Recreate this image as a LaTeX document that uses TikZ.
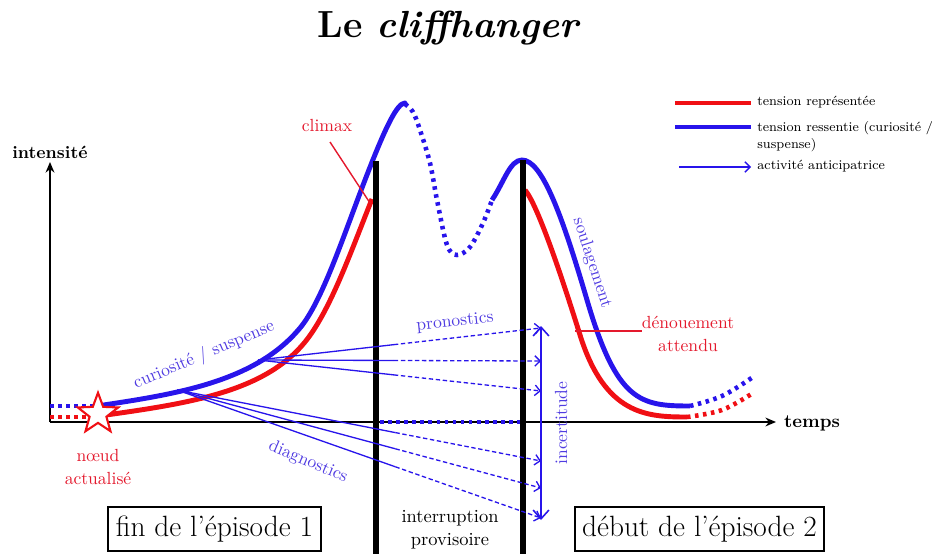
\documentclass[tikz,border=0pt]{standalone}
\usepackage{fontspec}
\usetikzlibrary{arrows.meta,shapes.geometric,calc}
\definecolor{cblue}{RGB}{40,20,235}
\definecolor{cred}{RGB}{240,15,20}
\definecolor{tblue}{RGB}{80,60,225}
\definecolor{tred}{RGB}{228,25,45}
\begin{document}
\begin{tikzpicture}[x=0.02cm,y=-0.02cm,
  txt/.style={font=\fontsize{10}{13}\selectfont, inner sep=0pt, align=center},
  legtxt/.style={font=\fontsize{7.6}{10}\selectfont, inner sep=0pt, anchor=west, align=left},
  axis/.style={black, line width=1.4pt, -{Stealth[length=6pt,width=5pt]}},
  barline/.style={black, line width=3.4pt},
  bcurve/.style={cblue, line width=2.8pt},
  rcurve/.style={cred, line width=2.8pt},
  bdots/.style={cblue, line width=2.6pt, dash pattern=on 2pt off 2.6pt},
  rdots/.style={cred, line width=2.6pt, dash pattern=on 2pt off 2.6pt},
  fan/.style={cblue, line width=0.75pt},
  fandash/.style={cblue, line width=0.75pt, dash pattern=on 2.5pt off 1.5pt, -{Straight Barb[length=3pt,width=6pt]}},
  epbox/.style={draw, line width=1pt, font=\fontsize{16.7}{20}\selectfont, inner sep=0pt, minimum height=0.88cm}
]
\useasboundingbox (0,0) rectangle (932,554);

\node[font=\fontsize{21.5}{25}\selectfont\bfseries] (title) at (449,28) {Le \textit{cliffhanger}};

% axes
\coordinate (O) at (50,422);
\coordinate (Ytop) at (50,162);
\coordinate (Xend) at (776,422);
\draw[axis] (O) -- (Ytop);
\draw[axis] (O) -- (Xend);
\node[txt, font=\fontsize{10}{12}\selectfont\bfseries] (int) at (50,152) {intensité};
\node[txt, font=\fontsize{10.5}{12}\selectfont\bfseries] (temps) at (812,423) {temps};

% dotted segment along axis
\draw[bdots] (380,422) -- (520,422);

% blue curve
\draw[bdots] (50,406) -- (97,406);
\draw[rdots] (50,417) -- (88,417);
\coordinate (B0) at (97,406);
\coordinate (B1) at (300,328);
\coordinate (B2) at (365,180);
\coordinate (B3) at (405,103);
\draw[bcurve, line cap=round] (B0) .. controls (177,394) and (255,382) .. (B1)
  .. controls (322,301.6) and (343,237.2) .. (B2)
  .. controls (385,128) and (397,103) .. (B3);
\draw[bdots] plot[smooth, tension=0.55] coordinates {(405,104) (413,112) (420,130) (430,163) (437,200) (447,245) (457,255) (470,247) (483,223) (492,200)};
\coordinate (Q0) at (492,200);
\coordinate (Q1) at (522,160);
\coordinate (Q2) at (587,300);
\coordinate (Q3) at (690,406);
\draw[bcurve] (Q0) .. controls (504,182) and (510,160) .. (Q1)
  .. controls (542,160) and (562,215) .. (Q2)
  .. controls (617,402) and (640,406) .. (Q3);
\draw[bdots] plot[smooth, tension=0.6] coordinates {(690,406) (722,396) (753,377)};

% red curve
\coordinate (R0) at (106,415);
\coordinate (R1) at (305,342);
\coordinate (R2) at (372,199);
\draw[rcurve] (R0) .. controls (192,403) and (265,391) .. (R1)
  .. controls (330,311) and (350,254) .. (R2);
\coordinate (S0) at (525,190);
\coordinate (S1) at (580,335);
\coordinate (S2) at (687,417);
\draw[rcurve] (S0) .. controls (537,204) and (560,271) .. (S1)
  .. controls (605,415) and (647,417) .. (S2);
\draw[rdots] plot[smooth, tension=0.6] coordinates {(687,417) (722,410) (753,393)};

% bars
\draw[barline] (376,161) -- (376,554);
\draw[barline] (523,160) -- (523,554);

% star
\node[star, star points=5, star point ratio=2.4, draw=cred, fill=white, line width=1.2pt, minimum size=0.85cm, inner sep=0pt] (star) at (98,414) {};
\node[txt, text=tred] (noeud) at (98,467) {nœud\\actualisé};

% fan arrows
\coordinate (o1) at (258,360);
\coordinate (o2) at (177,390);
\coordinate (t1) at (541,328);
\coordinate (t2) at (541,361);
\coordinate (t3) at (541,391);
\coordinate (t4) at (541,461);
\coordinate (t5) at (541,488);
\coordinate (t6) at (541,518);
\foreach \t in {t1,t2,t3}{
  \draw[fan] (o1) -- ($(o1)!0.48!(\t)$) coordinate (m);
  \draw[fandash] (m) -- (\t);
}
\foreach \t in {t4,t5,t6}{
  \draw[fan] (o2) -- ($(o2)!0.6!(\t)$) coordinate (m);
  \draw[fandash] (m) -- (\t);
}
\coordinate (u1) at (541,326);
\coordinate (u2) at (541,520);
\draw[cblue, line width=0.9pt, {Straight Barb[length=5pt,width=9pt]}-{Straight Barb[length=5pt,width=9pt]}] (u1) -- (u2);
\node[txt, text=tblue, rotate=90] (incert) at (561,423) {incertitude};

% labels
\node[txt, text=tblue, rotate=23] (curio) at (204,355) {curiosité / suspense};
\node[txt, text=tblue, rotate=-23] (diag) at (308,462) {diagnostics};
\node[txt, text=tblue, rotate=6] (prono) at (455,322) {pronostics};
\node[txt, text=tblue, rotate=-72] (soul) at (592,263) {soulagement};

\node[txt, text=tred] (climax) at (327,126) {climax};
\coordinate (cl1) at (330,142);
\coordinate (cl2) at (370,203);
\draw[tred, line width=0.8pt] (cl1) -- (cl2);

\node[txt, text=tred] (denou) at (688,334) {dénouement\\attendu};
\coordinate (d1) at (575,331);
\draw[tred, line width=0.8pt] (d1) -- (denou.west|-d1);

\node[txt, font=\fontsize{10.5}{13}\selectfont] (interr) at (450,530) {interruption\\provisoire};

% boxes
\node[epbox, minimum width=4.26cm] (ep1) at (214.5,529) {fin de l’épisode 1};
\node[epbox, minimum width=4.98cm] (ep2) at (699.5,529) {début de l’épisode 2};

% legend
\coordinate (la1) at (675,103);
\coordinate (la2) at (751,103);
\draw[cred, line width=2.6pt] (la1) -- (la2);
\node[legtxt] (leg1) at (757,102) {tension représentée};
\coordinate (lb1) at (675,127);
\coordinate (lb2) at (751,127);
\draw[cblue, line width=2.6pt] (lb1) -- (lb2);
\node[legtxt, anchor=north west] (leg2) at (757,121) {tension ressentie (curiosité /\\ suspense)};
\coordinate (lc1) at (679,167);
\coordinate (lc2) at (751,167);
\draw[cblue, line width=0.75pt, -{Straight Barb[length=3pt,width=6pt]}] (lc1) -- (lc2);
\node[legtxt] (leg3) at (757,166) {activité anticipatrice};
\end{tikzpicture}
\end{document}
